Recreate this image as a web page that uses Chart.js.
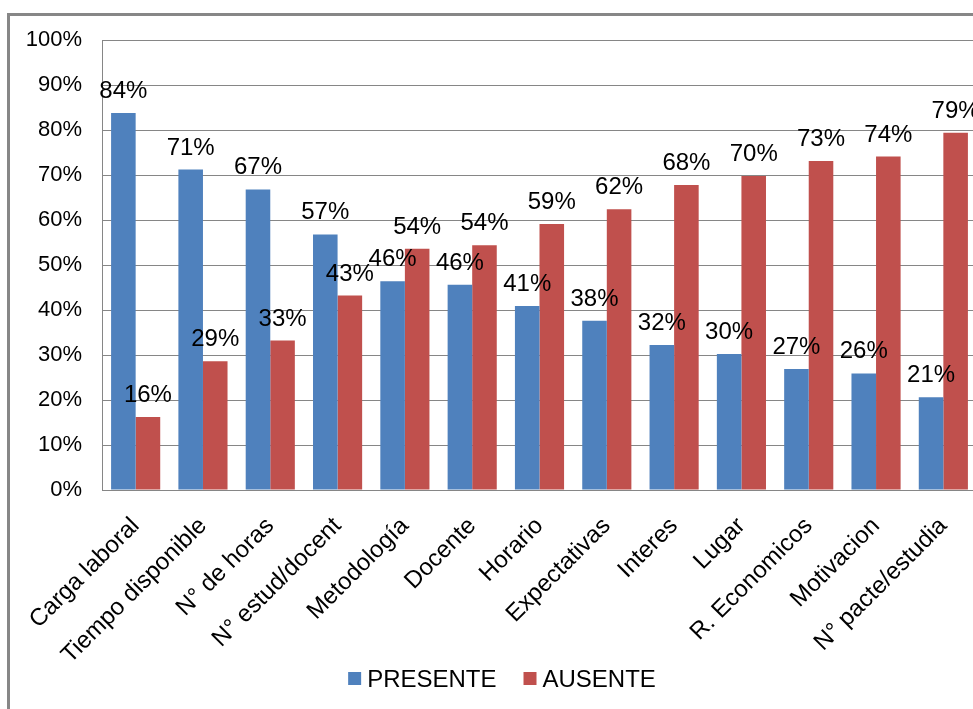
<!DOCTYPE html>
<html>
<head>
<meta charset="utf-8">
<script src="https://cdn.jsdelivr.net/npm/chart.js@4"></script>
<style>
body { margin: 0; background: #fff; overflow: hidden; }
#frame { position: absolute; left: 7px; top: 13px; width: 1000px; height: 720px; border: 3px solid #878787; }
#wrap { position: absolute; left: 0; top: 0; width: 980px; height: 709px; }
</style>
</head>
<body>
<div id="frame"></div>
<div id="wrap"><canvas id="canvas" width="980" height="709"></canvas></div>
<script>
const categories = ['Carga laboral', 'Tiempo disponible', 'N° de horas', 'N° estud/docent', 'Metodología',
    'Docente', 'Horario', 'Expectativas', 'Interes', 'Lugar', 'R. Economicos', 'Motivacion', 'N° pacte/estudia'];
const presente = [83.8, 71.2, 66.8, 56.8, 46.4, 45.6, 40.9, 37.6, 32.2, 30.2, 26.9, 25.9, 20.6];
const ausente = [16.2, 28.6, 33.2, 43.2, 53.6, 54.4, 59.1, 62.4, 67.8, 69.8, 73.1, 74.1, 79.4];
const yTicks = [0, 10, 20, 30, 40, 50, 60, 70, 80, 90, 100];

const font = "'Liberation Sans', Arial, sans-serif";

// etiquetas de porcentaje encima de cada barra
const valueLabels = {
    id: 'valueLabels',
    afterDatasetsDraw(chart) {
        const ctx = chart.ctx;
        ctx.save();
        ctx.font = '24px ' + font;
        ctx.fillStyle = '#000';
        ctx.textAlign = 'center';
        ctx.textBaseline = 'alphabetic';
        chart.data.datasets.forEach((ds, i) => {
            chart.getDatasetMeta(i).data.forEach((bar, j) => {
                ctx.fillText(Math.round(ds.data[j]) + '%', bar.x, bar.y - 15);
            });
        });
        ctx.restore();
    }
};

// leyenda abajo, dibujada a mano para que no recorte las etiquetas del eje x
const bottomLegend = {
    id: 'bottomLegend',
    afterDraw(chart) {
        const ctx = chart.ctx;
        const sets = chart.data.datasets;
        ctx.save();
        ctx.font = '24px ' + font;
        ctx.textBaseline = 'alphabetic';
        ctx.textAlign = 'left';
        const box = 13, gap = 6, itemGap = 27;
        let total = 0;
        sets.forEach((ds, i) => {
            total += box + gap + ctx.measureText(ds.label).width + (i > 0 ? itemGap : 0);
        });
        let x = 502 - total / 2;
        const baseline = 687;
        sets.forEach((ds, i) => {
            if (i > 0) x += itemGap;
            ctx.fillStyle = ds.backgroundColor;
            ctx.fillRect(x, baseline - 15, box, box);
            x += box + gap;
            ctx.fillStyle = '#000';
            ctx.fillText(ds.label, x, baseline);
            x += ctx.measureText(ds.label).width;
        });
        ctx.restore();
    }
};

const ctx = document.getElementById('canvas').getContext('2d');
new Chart(ctx, {
    type: 'bar',
    data: {
        labels: categories,
        datasets: [{
            label: 'PRESENTE',
            data: presente,
            backgroundColor: '#4F81BD',
            categoryPercentage: 0.73,
            barPercentage: 1.0
        }, {
            label: 'AUSENTE',
            data: ausente,
            backgroundColor: '#C0504D',
            categoryPercentage: 0.73,
            barPercentage: 1.0
        }]
    },
    options: {
        responsive: false,
        animation: false,
        layout: { padding: { left: 24, top: 40, right: 3, bottom: 0 } },
        scales: {
            x: {
                grid: { display: false },
                border: { display: true, color: '#868686', width: 1 },
                ticks: {
                    autoSkip: false,
                    minRotation: 45,
                    maxRotation: 45,
                    padding: 14,
                    color: '#000',
                    font: { family: font, size: 24 }
                },
                afterFit(scale) { scale.height = 219; }
            },
            y: {
                min: 0,
                max: 100,
                afterBuildTicks(scale) { scale.ticks = yTicks.map(v => ({ value: v })); },
                grid: { color: '#868686', drawTicks: false },
                border: { color: '#868686' },
                ticks: {
                    padding: 20,
                    color: '#000',
                    font: { family: font, size: 22 },
                    callback: v => v + '%'
                },
                afterFit(scale) { scale.width = 78; }
            }
        },
        plugins: {
            legend: { display: false },
            tooltip: { enabled: false }
        }
    },
    plugins: [valueLabels, bottomLegend]
});
</script>
</body>
</html>
